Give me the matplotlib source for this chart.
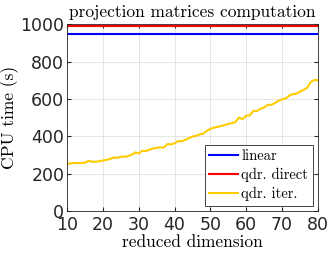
import numpy as np
from matplotlib import pyplot as plt

dims = list(range(10, 81))
t_linear = [946] * len(dims)
t_direct = [991] * len(dims)
t_iter = [250, 255, 256, 257, 256, 258, 268, 263, 263, 266,
          270, 273, 278, 286, 284, 290, 290, 293, 300, 313,
          308, 322, 320, 328, 334, 338, 340, 339, 358, 356,
          362, 374, 373, 380, 390, 398, 402, 410, 414, 428,
          440, 446, 450, 455, 460, 466, 470, 476, 500, 492,
          510, 512, 536, 535, 548, 554, 568, 568, 578, 590,
          598, 602, 618, 626, 628, 640, 648, 660, 690, 702,
          700]
xticks = [10, 20, 30, 40, 50, 60, 70, 80]
yticks = [0, 200, 400, 600, 800, 1000]

serif = ['cmr10', 'DejaVu Serif']
axcol = '0.15'

fig = plt.figure(figsize=(3.27, 2.54), dpi=100)
ax = fig.add_axes([0.205, 0.170, 0.767, 0.734])

ax.plot(dims, t_linear, color=(0, 0, 1), lw=1.5, label='linear')
ax.plot(dims, t_direct, color=(1, 0, 0), lw=1.5, label='qdr. direct')
ax.plot(dims, t_iter, color=(1, 0.8, 0), lw=1.5, label='qdr. iter.')

ax.set_xlim(10, 80)
ax.set_ylim(0, 1000)
ax.set_xticks(xticks)
ax.set_yticks(yticks)
ax.grid(True, color='0.88', lw=0.6)
ax.set_axisbelow(True)
ax.tick_params(direction='in', top=True, right=True, length=3,
               labelsize=12.5, colors=axcol)
ax.tick_params(axis='x', pad=4)
ax.tick_params(axis='y', pad=2)
for s in ax.spines.values():
    s.set_color(axcol)
    s.set_linewidth(0.6)

ax.set_title('projection matrices computation', family=serif, fontsize=12.5, pad=5)
ax.set_xlabel('reduced dimension', family=serif, fontsize=12.5, labelpad=0)
ax.set_ylabel('CPU time (s)', family=serif, fontsize=12.5, labelpad=1)

leg = ax.legend(loc='lower right', prop={'family': serif, 'size': 10.5},
                handlelength=2.0, handletextpad=0.2, borderpad=0.3,
                labelspacing=0.35, fancybox=False, framealpha=1,
                borderaxespad=0.35)
leg.get_frame().set_edgecolor(axcol)
leg.get_frame().set_linewidth(0.6)

fig.savefig('out.png', dpi=100)
